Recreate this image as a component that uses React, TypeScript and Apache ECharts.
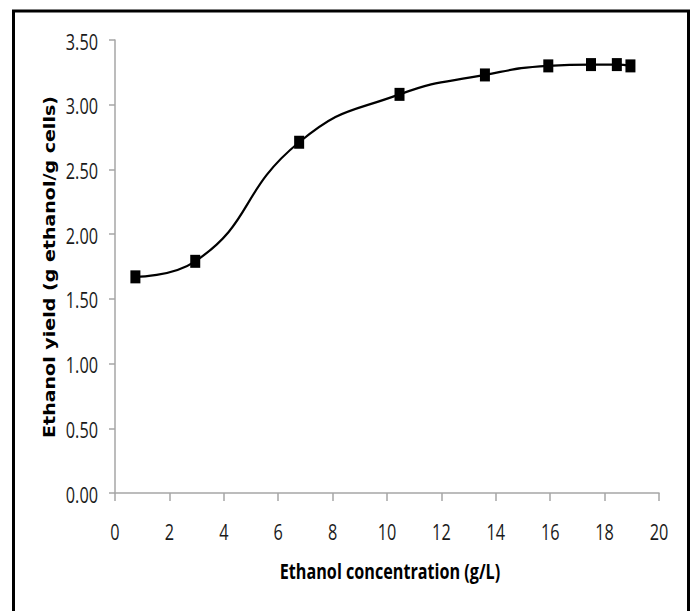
import React, { useEffect, useRef } from "react";
import * as echarts from "echarts";

const concentration = [0.75, 2.95, 6.77, 10.46, 13.6, 15.93, 17.5, 18.45, 18.95];
const ethanolYield = [1.67, 1.79, 2.71, 3.08, 3.23, 3.3, 3.31, 3.31, 3.3];
const xTicks = [0, 2, 4, 6, 8, 10, 12, 14, 16, 18, 20];
const yTicks = [0, 0.5, 1, 1.5, 2, 2.5, 3, 3.5];
const xTitle = "Ethanol concentration (g/L)";
const yTitle = "Ethanol yield (g ethanol/g cells)";

const LABEL_FONT = "'Open Sans', 'Liberation Sans', sans-serif";

export default function App() {
  const ref = useRef<HTMLDivElement>(null);
  useEffect(() => {
    document.body.style.margin = "0";
    const chart = echarts.init(ref.current!, null, { renderer: "svg" });
    const data = concentration.map((x, i) => [x, ethanolYield[i]]);
    chart.setOption({
      animation: false,
      backgroundColor: "#ffffff",
      grid: { left: 115, right: 33, top: 40, bottom: 118, containLabel: false },
      xAxis: {
        type: "value",
        min: 0,
        max: 20,
        interval: 2,
        axisLine: { show: true, lineStyle: { color: "#a6a6a6", width: 1.5 } },
        axisTick: { show: true, length: 8, inside: false, lineStyle: { color: "#a6a6a6", width: 1.5 } },
        axisLabel: { show: false },
        splitLine: { show: false },
      },
      yAxis: {
        type: "value",
        min: 0,
        max: 3.5,
        interval: 0.5,
        axisLine: { show: true, lineStyle: { color: "#a6a6a6", width: 1.5 } },
        axisTick: { show: true, length: 6, inside: false, lineStyle: { color: "#a6a6a6", width: 1.5 } },
        axisLabel: { show: false },
        splitLine: { show: false },
      },
      series: [
        {
          type: "line",
          data,
          smooth: true,
          symbol: "rect",
          symbolSize: [10, 13],
          itemStyle: { color: "#000" },
          lineStyle: { color: "#000", width: 2.2 },
        },
      ],
    });

    const labelStyle = {
      fontFamily: LABEL_FONT,
      fontSize: 22,
      fill: "#1a1a1a",
    };
    const xLabelEls = xTicks.map((v) => ({
      type: "text",
      x: chart.convertToPixel({ xAxisIndex: 0 }, v) as number,
      y: 531,
      scaleX: 0.74,
      silent: true,
      style: { ...labelStyle, text: String(v), align: "center", verticalAlign: "middle" },
    }));
    const yLabelEls = yTicks.map((v) => ({
      type: "text",
      x: 98,
      y: (chart.convertToPixel({ yAxisIndex: 0 }, v) as number) + 1,
      scaleX: 0.74,
      silent: true,
      style: { ...labelStyle, text: v.toFixed(2), align: "right", verticalAlign: "middle" },
    }));

    chart.setOption({
      graphic: [
        {
          type: "rect",
          shape: { x: 13.5, y: 11, width: 675, height: 620 },
          style: { fill: "none", stroke: "#000", lineWidth: 3 },
          silent: true,
        },
        ...xLabelEls,
        ...yLabelEls,
        {
          type: "text",
          x: 390,
          y: 570,
          scaleX: 0.735,
          silent: true,
          style: {
            text: xTitle,
            fontFamily: LABEL_FONT,
            fontWeight: "bold",
            fontSize: 22,
            fill: "#000",
            align: "center",
            verticalAlign: "middle",
          },
        },
        {
          type: "text",
          x: 50,
          y: 267,
          rotation: Math.PI / 2,
          scaleX: 1.36,
          scaleY: 1.08,
          silent: true,
          style: {
            text: yTitle,
            fontFamily: "'DejaVu Sans', sans-serif",
            fontWeight: "bold",
            fontSize: 14,
            fill: "#000",
            align: "center",
            verticalAlign: "middle",
          },
        },
      ],
    });
    return () => chart.dispose();
  }, []);
  return <div ref={ref} style={{ width: 692, height: 611 }} />;
}
